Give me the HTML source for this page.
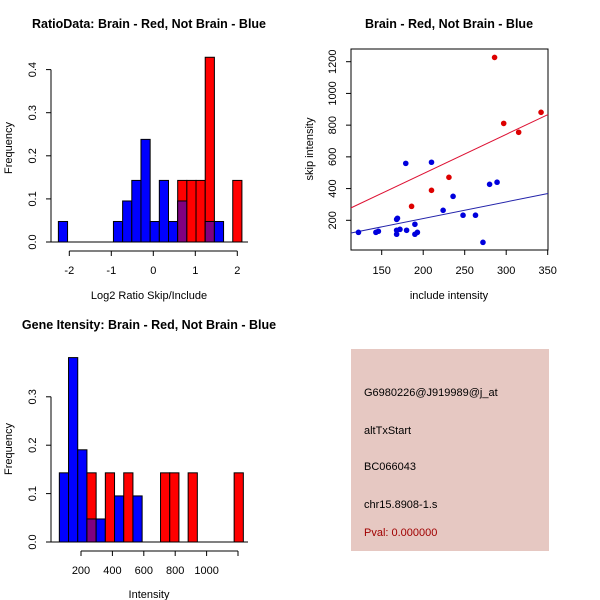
<!DOCTYPE html>
<html><head><meta charset="utf-8"><style>
body{margin:0;background:#fff}
svg{display:block;font-family:"Liberation Sans",sans-serif}
</style></head><body>
<svg id="c" width="600" height="600" xmlns="http://www.w3.org/2000/svg">
<rect width="600" height="600" fill="#fff"/>
<g>
<rect x="351" y="349" width="198" height="202" fill="#e6c8c2"/>
<text x="364" y="396" font-size="11">G6980226@J919989@j_at</text>
<text x="364" y="434" font-size="11">altTxStart</text>
<text x="364" y="470" font-size="11">BC066043</text>
<text x="364" y="508" font-size="11">chr15.8908-1.s</text>
<text x="364" y="536" font-size="11" fill="#a00000">Pval: 0.000000</text>
</g>
</svg>
<script>
// ---- data: ratio histogram ----
const ratioBinStart=-2.26, ratioBinWidth=0.2185;
const ratioBlue=[0.0476,0,0,0,0,0,0.0476,0.0952,0.1429,0.2381,0.0476,0.1429,0.0476,0.0952,0,0,0.0476,0.0476,0,0];
const ratioRed=[0,0,0,0,0,0,0,0,0,0,0,0,0,0.1429,0.1429,0.1429,0.4286,0,0,0.1429];
const ratioXTicks=[-2,-1,0,1,2];
const ratioYTicks=[0,0.1,0.2,0.3,0.4];
// ---- data: intensity histogram ----
const intBinStart=62, intBinWidth=58.6;
const intBlue=[0.1429,0.381,0.1905,0.0476,0.0476,0,0.0952,0,0.0952,0,0,0,0,0,0,0,0,0,0,0];
const intRed=[0,0,0,0.1429,0,0.1429,0,0.1429,0,0,0,0.1429,0.1429,0,0.1429,0,0,0,0,0.1429];
const intXTicks=[200,400,600,800,1000,1200];
const intXLabels=["200","400","600","800","1000",""];
const intYTicks=[0,0.1,0.2,0.3];
// ---- data: scatter ----
const blueInc=[122,143,146,168,168,169,168,172,180,179,190,190,193,210,224,236,248,263,272,280,289];
const blueSkip=[124,124,131,112,206,213,137,143,137,559,175,112,124,566,263,351,232,232,61,427,440];
const redInc=[186,210,231,286,297,315,342];
const redSkip=[288,389,471,1227,811,755,881];
const redFit=[-2,2.48];
const blueFit=[1,1.05];
const scXTicks=[150,200,250,300,350];
const scYTicks=[200,400,600,800,1000,1200];

const svg=document.getElementById('c');
const NS='http://www.w3.org/2000/svg';
function el(tag,attrs,parent){const e=document.createElementNS(NS,tag);for(const k in attrs)e.setAttribute(k,attrs[k]);(parent||svg).appendChild(e);return e;}
function txt(x,y,s,size,extra){const t=el('text',Object.assign({x:x,y:y,'font-size':size,'text-anchor':'middle'},extra||{}));t.textContent=s;return t;}

function hist(cfg){
  const g=el('g',{});
  
  
  const X=v=>cfg.x0+(v-cfg.xv0)*cfg.xs, Y=v=>cfg.y0-v*cfg.ys;
  for(let i=0;i<cfg.blue.length;i++){
    const a=X(cfg.bs+i*cfg.bw), w=cfg.bw*cfg.xs;
    const b=cfg.blue[i], r=cfg.red[i];
    if(b>0){const e=el('rect',{x:a,y:Y(b),width:w,height:Y(0)-Y(b),fill:'#0000ff',stroke:'#000','stroke-width':1},g);
      }
    if(r>0){const e=el('rect',{x:a,y:Y(r),width:w,height:Y(0)-Y(r),fill:'#ff0000',stroke:'#000','stroke-width':1},g);
      }
    if(b>0&&r>0){const m=Math.min(b,r);const e=el('rect',{x:a,y:Y(m),width:w,height:Y(0)-Y(m),fill:'#800080',stroke:'#000','stroke-width':1},g);
      }
  }
  el('line',{x1:cfg.lx,x2:cfg.rx,y1:Y(0),y2:Y(0),stroke:'#000'},g);
  const yt=cfg.yt;
  el('line',{x1:cfg.lx,x2:cfg.lx,y1:Y(yt[0]),y2:Y(yt[yt.length-1]),stroke:'#000'},g);
  yt.forEach(v=>{el('line',{x1:cfg.lx-5,x2:cfg.lx,y1:Y(v),y2:Y(v),stroke:'#000'},g);
    const t=txt(cfg.lx-15,Y(v),v.toFixed(1),11,{transform:`rotate(-90 ${cfg.lx-15} ${Y(v)})`});g.appendChild(t);});
  const xt=cfg.xt, ay=Y(0)+9;
  el('line',{x1:X(xt[0]),x2:X(xt[xt.length-1]),y1:ay,y2:ay,stroke:'#000'},g);
  xt.forEach((v,i)=>{el('line',{x1:X(v),x2:X(v),y1:ay,y2:ay+5,stroke:'#000'},g);
    const t=txt(X(v),ay+23,cfg.xl[i],11);g.appendChild(t);});
}
hist({name:'ratio-histogram',blue:ratioBlue,red:ratioRed,bs:ratioBinStart,bw:ratioBinWidth,x0:69.3,xv0:-2,xs:42,y0:242,ys:431,lx:51,rx:248,yt:ratioYTicks,xt:ratioXTicks,xl:ratioXTicks.map(String)});
hist({name:'intensity-histogram',blue:intBlue,red:intRed,bs:intBinStart,bw:intBinWidth,x0:81,xv0:200,xs:0.157,y0:542,ys:484,lx:51,rx:248,yt:intYTicks,xt:intXTicks,xl:intXLabels});

const sg=el('g',{});


const SX=v=>381.7+(v-150)*0.83, SY=v=>220.3-(v-200)*0.1586;
el('rect',{x:351,y:49,width:197,height:201,fill:'none',stroke:'#000'},sg);
[[redFit,'#dd1133','red-fit-line'],[blueFit,'#2222aa','blue-fit-line']].forEach(([f,c,n])=>{
  const x1=(351-381.7)/0.83+150, x2=(548-381.7)/0.83+150;
  const l=el('line',{x1:351,x2:548,y1:SY(f[0]+f[1]*x1),y2:SY(f[0]+f[1]*x2),stroke:c},sg);
  
});
blueInc.forEach((v,i)=>{const c=el('circle',{cx:SX(v),cy:SY(blueSkip[i]),r:2.8,fill:'#0000dd'},sg);
  });
redInc.forEach((v,i)=>{const c=el('circle',{cx:SX(v),cy:SY(redSkip[i]),r:2.8,fill:'#dd0000'},sg);
  });
scXTicks.forEach(v=>{el('line',{x1:SX(v),x2:SX(v),y1:250,y2:255,stroke:'#000'},sg);sg.appendChild(txt(SX(v),274,String(v),11));});
scYTicks.forEach(v=>{el('line',{x1:346,x2:351,y1:SY(v),y2:SY(v),stroke:'#000'},sg);
  sg.appendChild(txt(336,SY(v),String(v),11,{transform:`rotate(-90 336 ${SY(v)})`}));});

function lab(x,y,s,size,name,extra){const t=txt(x,y,s,size,extra);}
lab(149,28,'RatioData: Brain - Red, Not Brain - Blue',12.5,'ratio-title',{'font-weight':'bold'});
lab(449,28,'Brain - Red, Not Brain - Blue',12.5,'scatter-title',{'font-weight':'bold'});
lab(149,329,'Gene Itensity: Brain - Red, Not Brain - Blue',12.5,'intensity-title',{'font-weight':'bold'});
lab(149,299,'Log2 Ratio Skip/Include',11,'ratio-x-title');
lab(449,299,'include intensity',11,'scatter-x-title');
lab(149,598,'Intensity',11,'intensity-x-title');
lab(12,148,'Frequency',11,'ratio-y-title',{transform:'rotate(-90 12 148)'});
lab(12,449,'Frequency',11,'intensity-y-title',{transform:'rotate(-90 12 449)'});
lab(313,149,'skip intensity',11,'scatter-y-title',{transform:'rotate(-90 313 149)'});
</script>
</body></html>
